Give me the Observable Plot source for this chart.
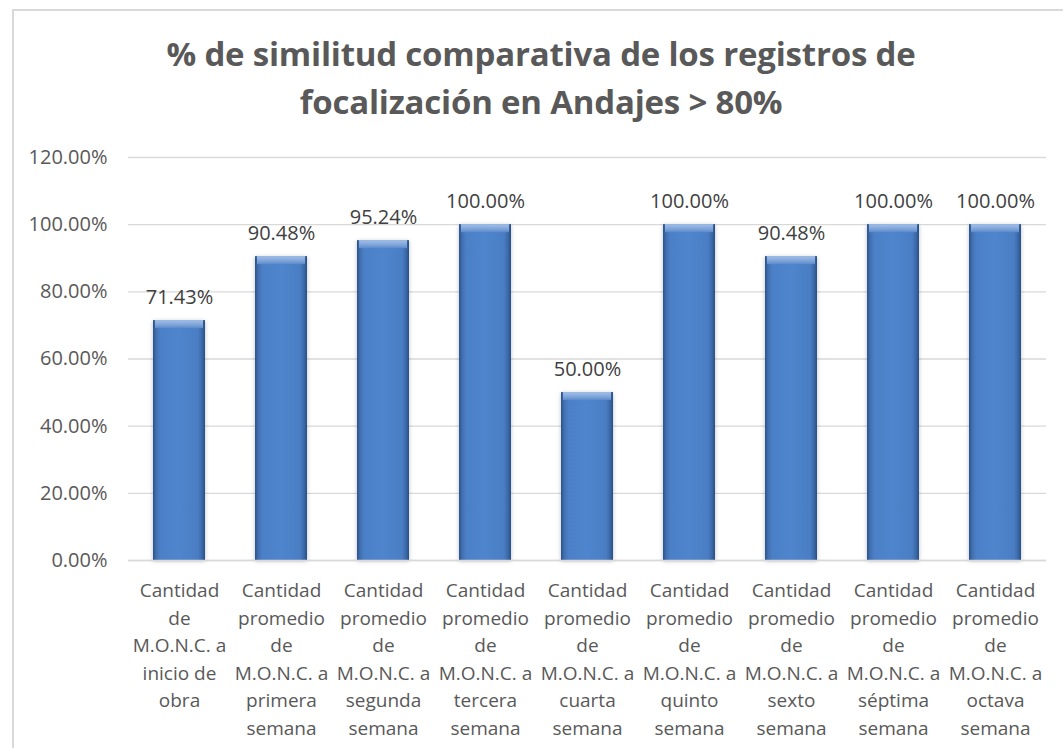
<!DOCTYPE html>
<html>
<head>
<meta charset="utf-8">
<script src="https://cdn.jsdelivr.net/npm/d3@7"></script>
<script src="https://cdn.jsdelivr.net/npm/@observablehq/plot@0.6"></script>
<style>
  html, body { margin: 0; padding: 0; background: #fff; overflow: hidden; width: 1063px; height: 748px; }
  #frame { position: absolute; left: 12px; top: 9px; width: 1100px; height: 800px; border: 2px solid #d9d9d9; box-sizing: border-box; }
  #title { position: absolute; left: 0; width: 1082px; top: 30px; text-align: center; font-family: "Open Sans", sans-serif; font-weight: 700; font-size: 33px; line-height: 48px; color: #595959; letter-spacing: -0.2px; }
  #chart { position: absolute; left: 0; top: 130px; }
</style>
</head>
<body>
<div id="frame"></div>
<div id="title">% de similitud comparativa de los registros de<br>focalización en Andajes &gt; 80%</div>
<div id="chart"></div>
<script>
const categories = [
  "Cantidad\nde\nM.O.N.C. a\ninicio de\nobra",
  "Cantidad\npromedio\nde\nM.O.N.C. a\nprimera\nsemana",
  "Cantidad\npromedio\nde\nM.O.N.C. a\nsegunda\nsemana",
  "Cantidad\npromedio\nde\nM.O.N.C. a\ntercera\nsemana",
  "Cantidad\npromedio\nde\nM.O.N.C. a\ncuarta\nsemana",
  "Cantidad\npromedio\nde\nM.O.N.C. a\nquinto\nsemana",
  "Cantidad\npromedio\nde\nM.O.N.C. a\nsexto\nsemana",
  "Cantidad\npromedio\nde\nM.O.N.C. a\nséptima\nsemana",
  "Cantidad\npromedio\nde\nM.O.N.C. a\noctava\nsemana"
];
const values = [71.43, 90.48, 95.24, 100, 50, 100, 90.48, 100, 100];
const yTicks = [0, 20, 40, 60, 80, 100, 120];

const data = categories.map((c, i) => ({cat: c, value: values[i]}));
const fmt = v => v.toFixed(2) + "%";

const plot = Plot.plot({
  width: 1063,
  height: 618,
  marginTop: 27,
  marginBottom: 188,
  marginLeft: 128,
  marginRight: 17,
  style: {fontFamily: "Open Sans, sans-serif", fontSize: "20px", color: "#595959", background: "transparent"},
  x: {domain: categories, paddingInner: 0.49, paddingOuter: 0.245, label: null},
  y: {domain: [0, 120], label: null},
  marks: [
    Plot.gridY(yTicks, {stroke: "#d9d9d9", strokeOpacity: 1, strokeWidth: 1.3}),
    Plot.axisY(yTicks, {tickSize: 0, tickPadding: 21, tickFormat: fmt, fontSize: 20, fill: "#595959", label: null}),
    Plot.axisX({tickSize: 0, tickPadding: 17, fontSize: 19, lineHeight: 1.45, fill: "#595959", label: null, tickFormat: d => d}),
    Plot.barY(data, {x: "cat", y: "value", fill: "url(#barGrad)", className: "bars"}),
    Plot.barY(data, {x: "cat", y1: d => d.value - 2.4, y2: "value", fill: "url(#bevelGrad)", insetLeft: 2, insetRight: 2}),
    Plot.ruleY([0], {stroke: "#d9d9d9", strokeWidth: 1.3}),
    Plot.text(data, {x: "cat", y: "value", text: d => fmt(d.value), dy: -23, fontSize: 20, fill: "#404040", lineAnchor: "middle"})
  ]
});

const svg = d3.select(plot);
const defs = svg.insert("defs", ":first-child");
const g = defs.append("linearGradient").attr("id", "barGrad").attr("x1", 0).attr("x2", 1).attr("y1", 0).attr("y2", 0);
[["0%", "#2b548c"], ["6%", "#416fb0"], ["14%", "#4b80c7"], ["50%", "#4f85cc"], ["86%", "#4a7ec4"], ["94%", "#3c6aaa"], ["100%", "#284f84"]]
  .forEach(([o, c]) => g.append("stop").attr("offset", o).attr("stop-color", c));
const b = defs.append("linearGradient").attr("id", "bevelGrad").attr("x1", 0).attr("x2", 0).attr("y1", 0).attr("y2", 1);
[["0%", "#a3c0e8"], ["60%", "#7ea3d8"], ["100%", "#5a8acb"]]
  .forEach(([o, c]) => b.append("stop").attr("offset", o).attr("stop-color", c));
const f = defs.append("filter").attr("id", "shadow").attr("x", "-30%").attr("y", "-10%").attr("width", "160%").attr("height", "120%");
f.append("feDropShadow").attr("dx", 0).attr("dy", 1).attr("stdDeviation", 2.2).attr("flood-color", "#000").attr("flood-opacity", 0.25);
svg.selectAll("g.bars").attr("filter", "url(#shadow)");

document.getElementById("chart").appendChild(plot);
</script>
</body>
</html>
